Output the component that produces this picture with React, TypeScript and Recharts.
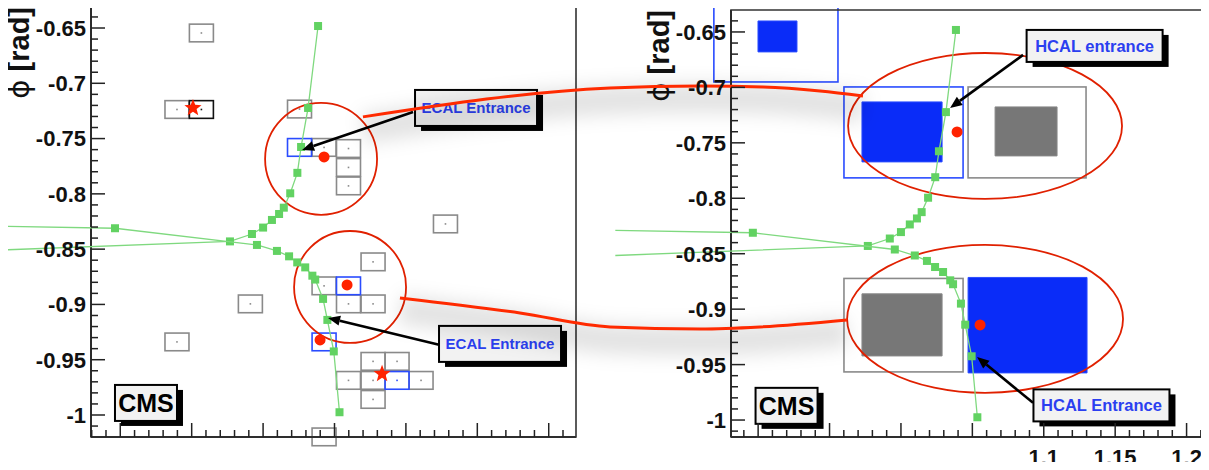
import React from 'react';
import { ComposedChart, XAxis, YAxis, Scatter, Line, ReferenceArea, ReferenceDot, ReferenceLine } from 'recharts';

// ---------- axes ----------
const X_MAJOR = [0.9, 0.95, 1.0, 1.05, 1.1, 1.15, 1.2];
const Y_MAJOR = [-1.0, -0.95, -0.9, -0.85, -0.8, -0.75, -0.7, -0.65];
const X_LABELLED = [1.1, 1.15, 1.2];
const L_XDOM = [0.8795, 1.2191];
const L_YDOM = [-1.0199, -0.631];
const R_XDOM = [0.881, 1.2213];
const R_YDOM = [-1.0153, -0.6302];

// ---------- tracks (eta, phi), shared by both panels ----------
const TRACK_A = [
  { x: 0.8, y: -0.8516, o: 1 },
  { x: 0.9768, y: -0.843 }, { x: 0.9922, y: -0.8363 }, { x: 1.0, y: -0.8305 },
  { x: 1.0062, y: -0.8236 }, { x: 1.0112, y: -0.8182 }, { x: 1.0145, y: -0.8125 },
  { x: 1.019, y: -0.7995 }, { x: 1.024, y: -0.781 }, { x: 1.0266, y: -0.7576 },
  { x: 1.0315, y: -0.7223 }, { x: 1.0385, y: -0.6482 },
];
const TRACK_B = [
  { x: 0.8, y: -0.829, o: 1 },
  { x: 0.8963, y: -0.8311 }, { x: 0.9957, y: -0.8462 }, { x: 1.0097, y: -0.8516 },
  { x: 1.0182, y: -0.8565 }, { x: 1.0239, y: -0.862 }, { x: 1.0295, y: -0.8665 },
  { x: 1.0345, y: -0.874 }, { x: 1.0365, y: -0.8775 }, { x: 1.042, y: -0.895 },
  { x: 1.045, y: -0.914 }, { x: 1.0495, y: -0.9425 }, { x: 1.0535, y: -0.9975 },
];

// ---------- ECAL view (left) ----------
const ECAL_GRAY = [
  { x: 0.9568, y: -0.6545 }, { x: 0.9397, y: -0.7237 }, { x: 1.0255, y: -0.7233 },
  { x: 1.0427, y: -0.758 }, { x: 1.0598, y: -0.759 }, { x: 1.0598, y: -0.7761 },
  { x: 1.0598, y: -0.7928 }, { x: 1.1277, y: -0.8272 }, { x: 1.077, y: -0.8615 },
  { x: 1.0427, y: -0.8832 }, { x: 1.0598, y: -0.8995 }, { x: 1.077, y: -0.8995 },
  { x: 1.077, y: -0.9515 }, { x: 1.0938, y: -0.9515 }, { x: 1.0598, y: -0.9687 },
  { x: 1.077, y: -0.9687 }, { x: 1.1106, y: -0.9687 }, { x: 1.077, y: -0.9859 },
  { x: 1.0427, y: -1.0198 }, { x: 0.9911, y: -0.8995 }, { x: 0.9397, y: -0.9339 },
];
const ECAL_BLUE = [
  { x: 1.0255, y: -0.758 }, { x: 1.0598, y: -0.8832 }, { x: 1.0427, y: -0.9339 }, { x: 1.0938, y: -0.9687 },
];
const ECAL_BLACK = [{ x: 0.9568, y: -0.7237 }];
const ECAL_DOTS = [{ x: 1.0427, y: -0.7666 }, { x: 1.0588, y: -0.8824 }, { x: 1.0399, y: -0.9321 }];
const ECAL_STARS = [{ x: 0.9509, y: -0.7223 }, { x: 1.0833, y: -0.9628 }];
const ECAL_RINGS = [
  { x1: 1.0014, x2: 1.0798, y1: -0.819, y2: -0.7178 },
  { x1: 1.0217, x2: 1.1001, y1: -0.9348, y2: -0.8336 },
];
const ECAL_ARROWS = [
  { x1: 1.105, y1: -0.7259, x2: 1.0273, y2: -0.7603 },
  { x1: 1.1239, y1: -0.9366, x2: 1.0455, y2: -0.9122 },
];
const ECAL_LABELS = [
  { t: 'ECAL Entrance', x: 1.1491, y: -0.7223, k: 'ecal' },
  { t: 'ECAL Entrance', x: 1.1659, y: -0.9357, k: 'ecal' },
  { t: 'CMS', x: 0.918, y: -0.9891, k: 'cms' },
];

// ---------- HCAL view (right) ----------
const HCAL_BLUE_CELLS = [
  { x1: 0.869, x2: 0.9559, y1: -0.6951, y2: -0.608 },
  { x1: 0.9601, x2: 1.0435, y1: -0.7816, y2: -0.6996 },
];
const HCAL_GRAY_CELLS = [
  { x1: 1.047, x2: 1.1296, y1: -0.7816, y2: -0.6996 },
  { x1: 0.9601, x2: 1.0435, y1: -0.9566, y2: -0.8723 },
];
const HCAL_BLUE_FILL = [
  { x1: 0.8999, x2: 0.9272, y1: -0.668, y2: -0.6401 },
  { x1: 0.9727, x2: 1.0288, y1: -0.7672, y2: -0.7131 },
  { x1: 1.047, x2: 1.1303, y1: -0.9575, y2: -0.8714 },
];
const HCAL_GRAY_FILL = [
  { x1: 1.0659, x2: 1.1093, y1: -0.7618, y2: -0.7176 },
  { x1: 0.9727, x2: 1.0288, y1: -0.9422, y2: -0.8862 },
];
const HCAL_DOTS = [{ x: 1.0393, y: -0.7402 }, { x: 1.0554, y: -0.9142 }];
const HCAL_RINGS = [
  { x1: 0.963, x2: 1.1548, y1: -0.8006, y2: -0.669 },
  { x1: 0.9623, x2: 1.1555, y1: -0.9755, y2: -0.8421 },
];
const HCAL_ARROWS = [
  { x1: 1.0855, y1: -0.6707, x2: 1.0344, y2: -0.7185 },
  { x1: 1.0925, y1: -0.9845, x2: 1.0533, y2: -0.9431 },
];
const HCAL_LABELS = [
  { t: 'HCAL entrance', x: 1.1356, y: -0.6626, k: 'hcal' },
  { t: 'HCAL Entrance', x: 1.1404, y: -0.9868, k: 'hcal' },
  { t: 'CMS', x: 0.9199, y: -0.9872, k: 'cms' },
];
// connectors from the ECAL rings to the HCAL rings (in the right panel's coordinates)
const LINK_UPPER = [
  { x: 0.6233, y: -0.7266 }, { x: 0.7963, y: -0.7005 }, { x: 0.8593, y: -0.6987 },
  { x: 0.9034, y: -0.6996 }, { x: 0.9433, y: -0.7032 }, { x: 0.9734, y: -0.7077 },
];
const LINK_LOWER = [
  { x: 0.6492, y: -0.8899 }, { x: 0.7332, y: -0.9034 }, { x: 0.7963, y: -0.916 },
  { x: 0.8593, y: -0.9178 }, { x: 0.9013, y: -0.916 }, { x: 0.9622, y: -0.9097 },
];

// ---------- styling ----------
const FONT = '"Liberation Sans", Arial, Helvetica, sans-serif';
const CELL_HALF_X = 0.0084;
const CELL_HALF_Y = 0.008;
const LABEL_STYLE: any = {
  ecal: { w: 122, h: 36, fs: 15, color: '#2b3ff0' },
  hcal: { w: 136, h: 32, fs: 16.5, color: '#2b3ff0' },
  cms: { w: 62, h: 36, fs: 25, color: '#000' },
};

function withMinors(majors: number[], lo: number, hi: number) {
  const step = (majors[1] - majors[0]) / 5;
  const out: number[] = [];
  for (let i = -10; i <= (majors.length - 1) * 5 + 10; i++) {
    const v = +(majors[0] + i * step).toFixed(4);
    if (v >= lo - 1e-9 && v <= hi + 1e-9) out.push(v);
  }
  return out;
}
const isIn = (arr: number[], v: number) => arr.some((m) => Math.abs(m - v) < 1e-6);
const fmt = (v: number) => String(parseFloat(v.toFixed(2)));

const YTick = (p: any) => {
  const v = p.payload.value;
  const major = isIn(Y_MAJOR, v);
  return (
    <g>
      <line x1={p.x} x2={p.x + (major ? 14 : 7)} y1={p.y} y2={p.y} stroke="#222" strokeWidth={1.5} />
      {major && (
        <text x={p.x - 5} y={p.y} dy="0.36em" textAnchor="end" fontFamily={FONT} fontWeight="bold" fontSize={22} fill="#111">
          {fmt(v)}
        </text>
      )}
    </g>
  );
};

const makeXTick = (labels: number[]) => (p: any) => {
  const v = p.payload.value;
  const major = isIn(X_MAJOR, v);
  return (
    <g>
      <line x1={p.x} x2={p.x} y1={p.y} y2={p.y - (major ? 14 : 7)} stroke="#222" strokeWidth={1.5} />
      {major && isIn(labels, v) && (
        <text x={p.x} y={p.y + 28} textAnchor="middle" fontFamily={FONT} fontWeight="bold" fontSize={22} fill="#111">
          {fmt(v)}
        </text>
      )}
    </g>
  );
};

const YTitle = (p: any) => {
  const vb = p.viewBox || { x: 0, y: 0 };
  return (
    <text transform={`translate(${vb.x + 29},${vb.y}) rotate(-90)`} textAnchor="end" fontFamily={FONT} fontWeight="bold" fontSize={29} fill="#111">
      <tspan fontWeight="normal" fontFamily='"DejaVu Sans", sans-serif'>ϕ</tspan>
      <tspan> [rad]</tspan>
    </text>
  );
};

const cellShape = (color: string, dot: boolean) => (p: any) => (
  <g>
    <rect x={p.x} y={p.y} width={p.width} height={p.height} fill="none" stroke={color} strokeWidth={1.6} />
    {dot && <rect x={p.x + p.width / 2 - 0.8} y={p.y + p.height / 2 - 0.8} width={1.6} height={1.6} fill={color} />}
  </g>
);

const ringShape = (p: any) => (
  <ellipse cx={p.x + p.width / 2} cy={p.y + p.height / 2} rx={p.width / 2} ry={p.height / 2} fill="none" stroke="#e02000" strokeWidth={1.8} />
);

const trackShape = (p: any) =>
  p.payload && p.payload.o ? <g /> : <rect x={p.cx - 4} y={p.cy - 4} width={8} height={8} fill="#62d262" />;

const starShape = (p: any) => {
  const pts: string[] = [];
  for (let i = 0; i < 10; i++) {
    const r = i % 2 === 0 ? 9 : 3.8;
    const a = -Math.PI / 2 + (i * Math.PI) / 5;
    pts.push(`${p.cx + r * Math.cos(a)},${p.cy + r * Math.sin(a)}`);
  }
  return <polygon points={pts.join(' ')} fill="#ff2200" />;
};

const arrowShape = (p: any) => {
  const { x1, y1, x2, y2 } = p;
  const ang = Math.atan2(y2 - y1, x2 - x1);
  const L = 12;
  const W = 5;
  const bx = x2 - L * Math.cos(ang);
  const by = y2 - L * Math.sin(ang);
  const nx = -Math.sin(ang);
  const ny = Math.cos(ang);
  return (
    <g>
      <line x1={x1} y1={y1} x2={bx} y2={by} stroke="#000" strokeWidth={2.6} />
      <polygon points={`${x2},${y2} ${bx + nx * W},${by + ny * W} ${bx - nx * W},${by - ny * W}`} fill="#000" />
    </g>
  );
};

const labelShape = (t: string, k: string) => (p: any) => {
  const s = LABEL_STYLE[k];
  const x = p.cx - s.w / 2;
  const y = p.cy - s.h / 2;
  return (
    <g>
      <rect x={x + 6} y={y + 5} width={s.w} height={s.h} fill="#000" />
      <rect x={x} y={y} width={s.w} height={s.h} fill="#f2f2f2" stroke="#000" strokeWidth={2} />
      <text x={p.cx} y={p.cy} dy="0.36em" textAnchor="middle" fontFamily={FONT} fontWeight="bold" fontSize={s.fs} fill={s.color}>
        {t}
      </text>
    </g>
  );
};

const css = `
.recharts-surface { overflow: visible; }
.nocl, .nocl * { clip-path: none !important; }
.linkshadow .recharts-curve { filter: url(#soft); transform: translate(0px, 12px); }
`;

function Axes({ xdom, ydom, xlabels }: any) {
  return null;
}

export default function App() {
  const lxt = withMinors(X_MAJOR, L_XDOM[0], L_XDOM[1]);
  const lyt = withMinors(Y_MAJOR, L_YDOM[0], L_YDOM[1]);
  const rxt = withMinors(X_MAJOR, R_XDOM[0], R_XDOM[1]);
  const ryt = withMinors(Y_MAJOR, R_YDOM[0], R_YDOM[1]);

  const commonX = (dom: number[], ticks: number[], labels: number[]) => (
    <XAxis
      type="number"
      dataKey="x"
      domain={dom}
      allowDataOverflow
      ticks={ticks}
      interval={0}
      tickLine={false}
      tickSize={0}
      tickMargin={0}
      height={33}
      axisLine={{ stroke: '#222', strokeWidth: 2 }}
      tick={makeXTick(labels)}
    />
  );
  const commonY = (dom: number[], ticks: number[]) => (
    <YAxis
      type="number"
      dataKey="y"
      domain={dom}
      allowDataOverflow
      ticks={ticks}
      interval={0}
      tickLine={false}
      tickSize={0}
      tickMargin={0}
      width={91}
      axisLine={{ stroke: '#111', strokeWidth: 2 }}
      tick={YTick}
      label={YTitle}
    />
  );

  const tracks = [TRACK_A, TRACK_B].map((d, i) => (
    <Scatter
      key={'trk' + i}
      className="nocl"
      data={d}
      line={{ stroke: '#7fd97f', strokeWidth: 1.3 }}
      shape={trackShape}
      isAnimationActive={false}
      zIndex={600}
    />
  ));

  return (
    <div style={{ position: 'relative', width: 1209, height: 470, margin: -8, overflow: 'hidden', background: '#fff', fontFamily: FONT }}>
      <style>{css}</style>
      <svg width={0} height={0} style={{ position: 'absolute' }}>
        <defs>
          <filter id="soft" filterUnits="userSpaceOnUse" x={-2000} y={-2000} width={5000} height={5000}>
            <feGaussianBlur stdDeviation={9} />
          </filter>
        </defs>
      </svg>

      {/* ECAL panel */}
      <div style={{ position: 'absolute', left: 0, top: 0 }}>
        <ComposedChart width={600} height={470} margin={{ top: 7, right: 24, bottom: 0, left: 0 }}>
          {commonX(L_XDOM, lxt, [])}
          {commonY(L_YDOM, lyt)}
          <ReferenceArea x1={L_XDOM[0]} x2={L_XDOM[1]} y1={L_YDOM[0]} y2={L_YDOM[1]} fill="none" stroke="#333" strokeWidth={1.6} ifOverflow="visible" zIndex={500} />
          {ECAL_GRAY.map((c, i) => (
            <ReferenceArea key={'g' + i} x1={c.x - CELL_HALF_X} x2={c.x + CELL_HALF_X} y1={c.y - CELL_HALF_Y} y2={c.y + CELL_HALF_Y} ifOverflow="hidden" shape={cellShape('#8a8a8a', true)} zIndex={100} />
          ))}
          {ECAL_BLUE.map((c, i) => (
            <ReferenceArea key={'b' + i} x1={c.x - CELL_HALF_X} x2={c.x + CELL_HALF_X} y1={c.y - CELL_HALF_Y} y2={c.y + CELL_HALF_Y} ifOverflow="hidden" shape={cellShape('#2a4cff', true)} zIndex={110} />
          ))}
          {ECAL_BLACK.map((c, i) => (
            <ReferenceArea key={'k' + i} x1={c.x - CELL_HALF_X} x2={c.x + CELL_HALF_X} y1={c.y - CELL_HALF_Y} y2={c.y + CELL_HALF_Y} ifOverflow="hidden" shape={cellShape('#111', true)} zIndex={110} />
          ))}
          {ECAL_RINGS.map((r, i) => (
            <ReferenceArea key={'r' + i} {...r} ifOverflow="visible" shape={ringShape} zIndex={200} />
          ))}
          {tracks}
          {ECAL_DOTS.map((d, i) => (
            <ReferenceDot key={'d' + i} x={d.x} y={d.y} r={5.5} fill="#ff2200" stroke="none" zIndex={650} />
          ))}
          {ECAL_STARS.map((d, i) => (
            <ReferenceDot key={'s' + i} x={d.x} y={d.y} r={8} shape={starShape} zIndex={650} />
          ))}
          {ECAL_ARROWS.map((a, i) => (
            <ReferenceLine key={'a' + i} segment={[{ x: a.x1, y: a.y1 }, { x: a.x2, y: a.y2 }]} ifOverflow="visible" shape={arrowShape} zIndex={700} />
          ))}
          {ECAL_LABELS.map((l, i) => (
            <ReferenceDot key={'l' + i} x={l.x} y={l.y} r={1} shape={labelShape(l.t, l.k)} zIndex={800} />
          ))}
        </ComposedChart>
      </div>

      {/* HCAL panel */}
      <div style={{ position: 'absolute', left: 640, top: 0 }}>
        <ComposedChart width={577} height={470} margin={{ top: 10, right: 0, bottom: 0, left: 0 }}>
          {commonX(R_XDOM, rxt, X_LABELLED)}
          {commonY(R_YDOM, ryt)}
          <ReferenceArea x1={R_XDOM[0]} x2={R_XDOM[1]} y1={R_YDOM[0]} y2={R_YDOM[1]} fill="none" stroke="#333" strokeWidth={1.6} ifOverflow="visible" zIndex={500} />
          {HCAL_BLUE_FILL.map((c, i) => (
            <ReferenceArea key={'bf' + i} {...c} ifOverflow="hidden" fill="#0a2cf8" fillOpacity={1} stroke="#2a4cff" strokeWidth={1} zIndex={100} />
          ))}
          {HCAL_GRAY_FILL.map((c, i) => (
            <ReferenceArea key={'gf' + i} {...c} ifOverflow="hidden" fill="#777" fillOpacity={1} stroke="#888" strokeWidth={1} zIndex={100} />
          ))}
          {HCAL_BLUE_CELLS.map((c, i) => (
            <ReferenceArea key={'bc' + i} {...c} ifOverflow="hidden" shape={cellShape('#2a4cff', false)} zIndex={110} />
          ))}
          {HCAL_GRAY_CELLS.map((c, i) => (
            <ReferenceArea key={'gc' + i} {...c} ifOverflow="hidden" shape={cellShape('#8a8a8a', false)} zIndex={110} />
          ))}
          {HCAL_RINGS.map((r, i) => (
            <ReferenceArea key={'r' + i} {...r} ifOverflow="visible" shape={ringShape} zIndex={200} />
          ))}
          {tracks}
          {HCAL_DOTS.map((d, i) => (
            <ReferenceDot key={'d' + i} x={d.x} y={d.y} r={5.5} fill="#ff2200" stroke="none" zIndex={650} />
          ))}
          {HCAL_ARROWS.map((a, i) => (
            <ReferenceLine key={'a' + i} segment={[{ x: a.x1, y: a.y1 }, { x: a.x2, y: a.y2 }]} ifOverflow="visible" shape={arrowShape} zIndex={700} />
          ))}
          {HCAL_LABELS.map((l, i) => (
            <ReferenceDot key={'l' + i} x={l.x} y={l.y} r={1} shape={labelShape(l.t, l.k)} zIndex={800} />
          ))}
          {[LINK_UPPER, LINK_LOWER].map((d, i) => (
            <Line key={'ls' + i} className="nocl linkshadow" data={d} dataKey="y" type="monotoneX" stroke="#000" strokeOpacity={0.11} strokeWidth={30} dot={false} activeDot={false} isAnimationActive={false} zIndex={850} />
          ))}
          {[LINK_UPPER, LINK_LOWER].map((d, i) => (
            <Line key={'lk' + i} className="nocl" data={d} dataKey="y" type="monotoneX" stroke="#ff2a00" strokeWidth={3} dot={false} activeDot={false} isAnimationActive={false} zIndex={900} />
          ))}
        </ComposedChart>
      </div>
    </div>
  );
}
